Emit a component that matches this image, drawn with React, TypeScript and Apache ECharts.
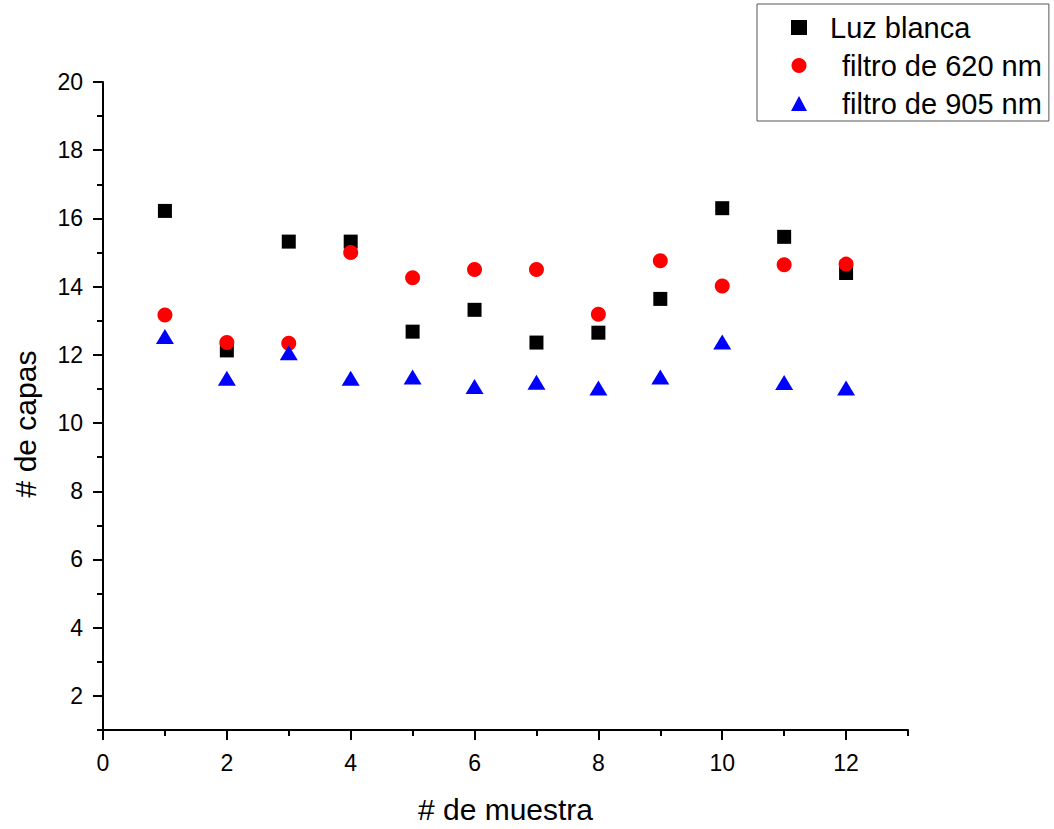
import React, { useEffect, useRef } from "react";
import * as echarts from "echarts";

// Sample number (x) and counted layers (y) for each illumination condition
const muestras = [1, 2, 3, 4, 5, 6, 7, 8, 9, 10, 11, 12];
const luzBlanca = [16.22, 12.13, 15.32, 15.32, 12.68, 13.32, 12.36, 12.65, 13.64, 16.3, 15.46, 14.4];
const filtro620 = [13.17, 12.36, 12.34, 15.0, 14.26, 14.5, 14.5, 13.19, 14.76, 14.02, 14.64, 14.66];
const filtro905 = [12.54, 11.31, 12.06, 11.31, 11.35, 11.07, 11.2, 11.03, 11.35, 12.38, 11.19, 11.03];

const seriesNames = ["Luz blanca", " filtro de 620 nm", " filtro de 905 nm"];

// Tick positions
const xMajor = [0, 2, 4, 6, 8, 10, 12];
const xMinor = [1, 3, 5, 7, 9, 11, 13];
const yMajor = [2, 4, 6, 8, 10, 12, 14, 16, 18, 20];
const yMinor = [1, 3, 5, 7, 9, 11, 13, 15, 17, 19];

const FONT = "'Liberation Sans', Arial, sans-serif";

const pairs = (ys: number[]) => muestras.map((x, i) => [x, ys[i]]);

export default function App() {
  const ref = useRef<HTMLDivElement>(null);

  useEffect(() => {
    if (!ref.current) return;
    const chart = echarts.init(ref.current, null, { renderer: "svg" });
    const axisLine = { show: true, lineStyle: { color: "#000", width: 2 } };
    chart.setOption({
      animation: false,
      backgroundColor: "#fff",
      textStyle: { fontFamily: FONT },
      grid: { left: 103, top: 82, width: 805, height: 655 },
      legend: {
        orient: "vertical",
        left: 757,
        top: 4,
        padding: [9, 7, 3, 34],
        borderColor: "#555",
        borderWidth: 1,
        itemWidth: 16,
        itemHeight: 15,
        itemGap: 9,
        data: [
          { name: seriesNames[0], icon: "rect" },
          { name: seriesNames[1], icon: "circle" },
          { name: seriesNames[2], icon: "triangle" },
        ],
        formatter: (name: string) =>
          name === seriesNames[0] ? `{a|${name.trim()}}` : `{b|${name.trim()}}`,
        textStyle: {
          fontFamily: FONT,
          fontSize: 29,
          color: "#000",
          rich: {
            a: { fontFamily: FONT, fontSize: 29, color: "#000", padding: [0, 0, 0, 18], lineHeight: 27 },
            b: { fontFamily: FONT, fontSize: 29, color: "#000", padding: [0, 0, 0, 30], lineHeight: 27 },
          },
        },
      },
      xAxis: [
        {
          type: "value",
          min: 0,
          max: 13,
          position: "bottom",
          name: "# de muestra",
          nameLocation: "middle",
          nameGap: 64,
          nameTextStyle: { fontFamily: FONT, fontSize: 30, color: "#000" },
          axisLine,
          axisTick: { show: true, customValues: xMajor, length: 10, lineStyle: { color: "#000", width: 2 } },
          axisLabel: { customValues: xMajor, fontFamily: FONT, fontSize: 23, color: "#000", margin: 21 },
          splitLine: { show: false },
        },
        {
          type: "value",
          min: 0,
          max: 13,
          position: "bottom",
          axisLine: { show: false },
          axisTick: { show: true, customValues: xMinor, length: 6, lineStyle: { color: "#000", width: 2 } },
          axisLabel: { show: false },
          splitLine: { show: false },
        },
      ],
      yAxis: [
        {
          type: "value",
          min: 1,
          max: 20,
          position: "left",
          name: "# de capas",
          nameLocation: "middle",
          nameGap: 63,
          nameTextStyle: { fontFamily: FONT, fontSize: 30, color: "#000", padding: [0, 36, 0, 0] },
          axisLine,
          axisTick: { show: true, customValues: yMajor, length: 10, lineStyle: { color: "#000", width: 2 } },
          axisLabel: { customValues: yMajor, fontFamily: FONT, fontSize: 23, color: "#000", margin: 20 },
          splitLine: { show: false },
        },
        {
          type: "value",
          min: 1,
          max: 20,
          position: "left",
          axisLine: { show: false },
          axisTick: { show: true, customValues: yMinor, length: 6, lineStyle: { color: "#000", width: 2 } },
          axisLabel: { show: false },
          splitLine: { show: false },
        },
      ],
      series: [
        {
          name: seriesNames[0],
          type: "scatter",
          symbol: "rect",
          symbolSize: 14,
          itemStyle: { color: "#000", opacity: 1 },
          data: pairs(luzBlanca),
        },
        {
          name: seriesNames[1],
          type: "scatter",
          symbol: "circle",
          symbolSize: 15,
          itemStyle: { color: "#ff0000", opacity: 1 },
          data: pairs(filtro620),
        },
        {
          name: seriesNames[2],
          type: "scatter",
          symbol: "triangle",
          symbolSize: [18, 15],
          itemStyle: { color: "#0000ff", opacity: 1 },
          data: pairs(filtro905),
        },
      ],
    });
    return () => chart.dispose();
  }, []);

  return (
    <div
      ref={ref}
      style={{ position: "fixed", left: 0, top: 0, width: 1054, height: 829, background: "#fff" }}
    />
  );
}
